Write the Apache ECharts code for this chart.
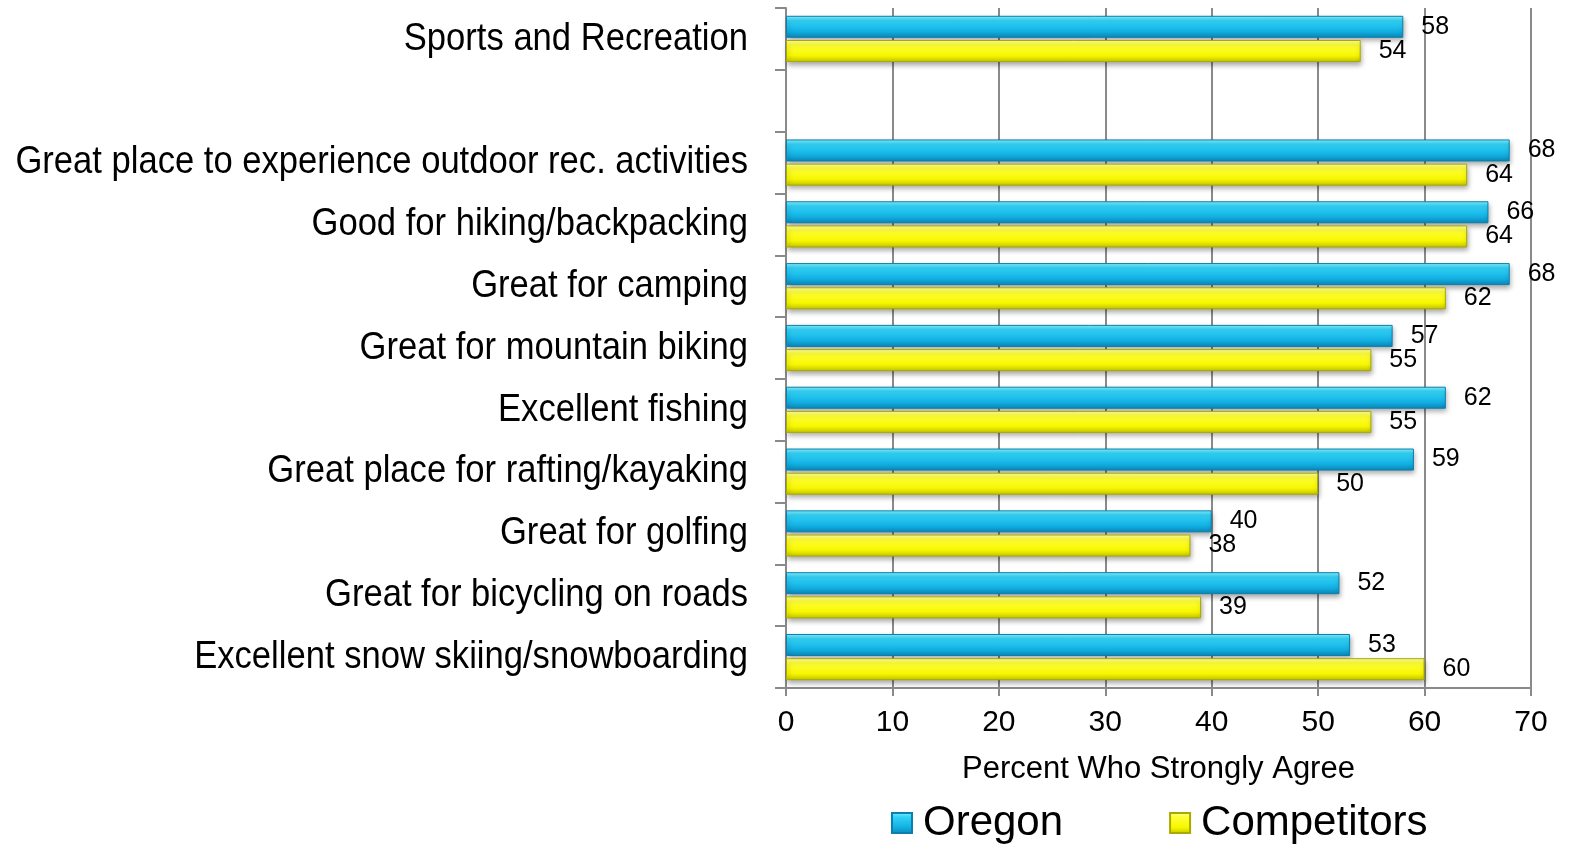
<!DOCTYPE html>
<html>
<head>
<meta charset="utf-8">
<script src="https://cdn.jsdelivr.net/npm/echarts@6/dist/echarts.min.js"></script>
<style>
  html, body { margin: 0; padding: 0; background: #fff; }
  #chart { width: 1577px; height: 845px; }
</style>
</head>
<body>
<div id="chart"></div>
<script>
// Survey categories, top to bottom ('' leaves an empty row under the summary)
const categories = [
  'Sports and Recreation',
  '',
  'Great place to experience outdoor rec. activities',
  'Good for hiking/backpacking',
  'Great for camping',
  'Great for mountain biking',
  'Excellent fishing',
  'Great place for rafting/kayaking',
  'Great for golfing',
  'Great for bicycling on roads',
  'Excellent snow skiing/snowboarding'
];
const oregon      = [58, null, 68, 66, 68, 57, 62, 59, 40, 52, 53];
const competitors = [54, null, 64, 64, 62, 55, 55, 50, 38, 39, 60];
const xTicks = { min: 0, max: 70, step: 10 };

const bodyFont = "'Liberation Sans', Arial, Helvetica, sans-serif";

const grad = (c0, c1, c2, c3) => new echarts.graphic.LinearGradient(0, 0, 0, 1, [
  { offset: 0, color: c0 },
  { offset: 0.22, color: c1 },
  { offset: 0.7, color: c2 },
  { offset: 1, color: c3 }
]);

const blueFill = grad('#8af3ff', '#33d3f7', '#12b0e3', '#0a86b5');
const yellowFill = grad('#ffffa8', '#ffff38', '#f7f700', '#c4c400');

function barSeries(name, data, fill, border) {
  return {
    name: name,
    type: 'bar',
    data: data,
    barWidth: 22,
    barGap: '10%',
    itemStyle: {
      color: fill,
      borderColor: border,
      borderWidth: 1,
      shadowColor: 'rgba(0,0,0,0.35)',
      shadowBlur: 5,
      shadowOffsetY: 3,
      shadowOffsetX: 1
    },
    label: {
      show: true,
      position: 'right',
      distance: 18,
      color: '#000',
      fontSize: 25,
      fontFamily: bodyFont
    }
  };
}

const chart = echarts.init(document.getElementById('chart'), null, { renderer: 'canvas' });
chart.setOption({
  animation: false,
  backgroundColor: '#fff',
  grid: { left: 786, right: 46, top: 8, bottom: 157, containLabel: false, outerBoundsMode: 'none' },
  legend: {
    left: 886,
    top: 797,
    itemWidth: 20,
    itemHeight: 20,
    itemGap: 106,
    icon: 'rect',
    textStyle: { fontSize: 42, color: '#000', fontFamily: bodyFont, padding: [0, 0, 0, 6] },
    data: ['Oregon', 'Competitors']
  },
  xAxis: {
    type: 'value',
    min: xTicks.min,
    max: xTicks.max,
    interval: xTicks.step,
    name: 'Percent Who Strongly Agree',
    nameLocation: 'middle',
    nameGap: 66,
    nameTextStyle: { fontSize: 31, color: '#000', fontFamily: bodyFont },
    axisLine: { show: true, lineStyle: { color: '#8a8a8a', width: 2 } },
    axisTick: { show: true, length: 8, lineStyle: { color: '#8a8a8a', width: 2 } },
    axisLabel: { fontSize: 30, color: '#000', margin: 20, fontFamily: bodyFont },
    splitLine: { show: true, lineStyle: { color: '#8a8a8a', width: 2 } }
  },
  yAxis: {
    type: 'category',
    data: categories,
    inverse: true,
    axisLine: { show: true, lineStyle: { color: '#8a8a8a', width: 2 } },
    axisTick: { show: true, length: 11, lineStyle: { color: '#8a8a8a', width: 2 } },
    // category names are drawn below as narrowed text
    axisLabel: { show: false },
    splitLine: { show: false }
  },
  series: [
    barSeries('Oregon', oregon, blueFill, '#0b7fad'),
    barSeries('Competitors', competitors, yellowFill, '#a9a900')
  ]
});

// Category names in a narrow sans: Liberation Sans squeezed horizontally,
// placed from the category axis' own pixel positions.
const axisX = chart.convertToPixel({ xAxisIndex: 0 }, 0);
const nameLabels = [];
categories.forEach(function (cat, i) {
  if (!cat) return;
  const y = chart.convertToPixel({ yAxisIndex: 0 }, i);
  nameLabels.push({
    type: 'text',
    x: axisX - 38,
    y: y,
    scaleX: 0.887,
    silent: true,
    style: {
      text: cat,
      x: 0,
      y: 0,
      align: 'right',
      verticalAlign: 'middle',
      fontSize: 39,
      fontFamily: bodyFont,
      fill: '#000'
    }
  });
});
chart.setOption({ graphic: nameLabels });
</script>
</body>
</html>
